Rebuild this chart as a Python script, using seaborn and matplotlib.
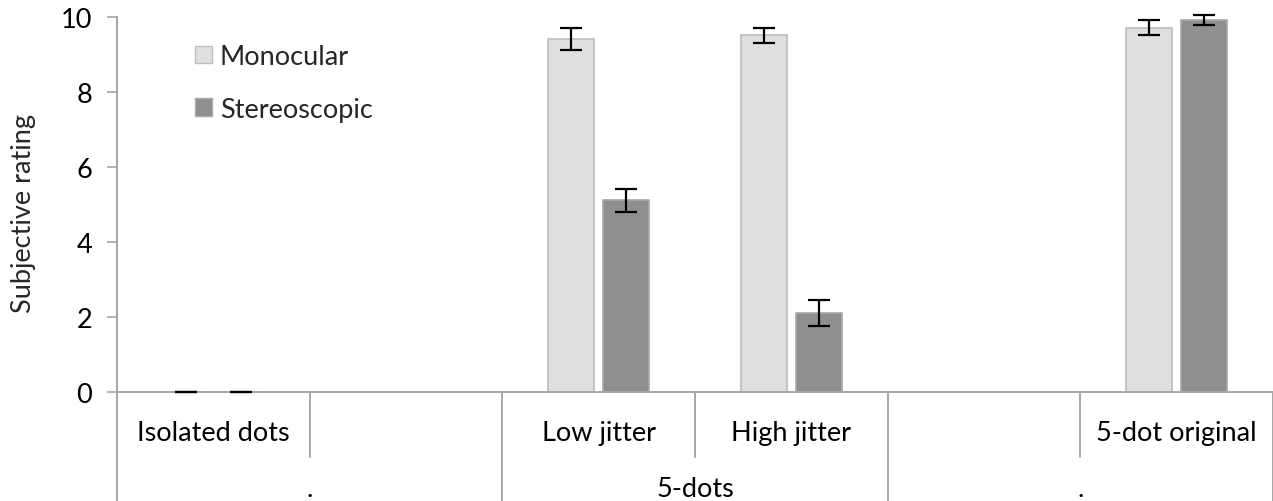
import matplotlib
matplotlib.use("Agg")
import matplotlib.pyplot as plt
import matplotlib.transforms as mtransforms
from matplotlib.patches import Patch
from matplotlib.lines import Line2D
import seaborn as sns
import pandas as pd

# ---- data ----
categories = ["Isolated dots", "blank_a", "Low jitter", "High jitter", "blank_b", "5-dot original"]
category_labels = ["Isolated dots", "", "Low jitter", "High jitter", "", "5-dot original"]
group_labels = [".", "5-dots", "."]
group_spans = [(0, 1), (2, 3), (4, 5)]
series = ["Monocular", "Stereoscopic"]
data_categories = ["Isolated dots", "Low jitter", "High jitter", "5-dot original"]
monocular = [0.0, 9.41, 9.51, 9.71]
stereoscopic = [0.0, 5.11, 2.10, 9.92]
monocular_err = [0.0, 0.30, 0.20, 0.20]
stereoscopic_err = [0.0, 0.30, 0.35, 0.13]

sns.set_theme(style="white")
plt.rcParams["font.family"] = ["Lato", "DejaVu Sans"]
FS = 19.5

rows = []
for c, m, s, me, se in zip(data_categories, monocular, stereoscopic, monocular_err, stereoscopic_err):
    rows.append({"cat": c, "series": "Monocular", "val": m, "err": me})
    rows.append({"cat": c, "series": "Stereoscopic", "val": s, "err": se})
df = pd.DataFrame(rows)

fig = plt.figure(figsize=(12.73, 5.02), dpi=100)
ax = fig.add_axes([117 / 1273, 1 - 393 / 502, 1156 / 1273, 375 / 502])

palette = {"Monocular": "#dfdfdf", "Stereoscopic": "#8f8f8f"}
sns.barplot(data=df, x="cat", y="val", hue="series", order=categories,
            hue_order=series, palette=palette, width=0.568, gap=0.155,
            errorbar=None, legend=False, ax=ax, saturation=1)

edge = {"Monocular": "#bdbdbd", "Stereoscopic": "#a9a9a9"}
lookup = {(r.cat, r.series): r.err for r in df.itertuples()}
for p in ax.patches:
    cx = p.get_x() + p.get_width() / 2
    ci = int(round(cx))
    s = series[0] if cx < ci else series[1]
    p.set_edgecolor(edge[s])
    p.set_linewidth(1.2)
    err = lookup[(categories[ci], s)]
    ax.errorbar(cx, p.get_height(), yerr=err, fmt="none", ecolor="black",
                elinewidth=1.6, capsize=8, capthick=1.6, zorder=5, clip_on=False)

ax.set_xlim(-0.5, 5.5)
ax.set_ylim(0, 10)
ax.set_yticks([0, 2, 4, 6, 8, 10])
ax.tick_params(axis="y", which="both", left=True, length=7, width=1.2,
               color="#a6a6a6", labelsize=FS, pad=11, labelcolor="black")
ax.set_xticks([])
ax.set_xlabel("")
ax.set_ylabel("Subjective rating", fontsize=FS)
ax.yaxis.set_label_coords((36 - 117) / 1156, (393 - 214) / 375)
for side in ["top", "right"]:
    ax.spines[side].set_visible(False)
for side in ["left", "bottom"]:
    ax.spines[side].set_color("#a6a6a6")
    ax.spines[side].set_linewidth(1.4)

# multi-level category axis
trans = mtransforms.blended_transform_factory(ax.transData, ax.transAxes)
row1_y = (393 - 434) / 375
row2_y = (393 - 490) / 375
short_end = (393 - 458) / 375
long_end = (393 - 503) / 375
for i, lab in enumerate(category_labels):
    if lab:
        ax.text(i, row1_y, lab, transform=trans, ha="center", va="center",
                fontsize=FS, color="black")
long_bounds = {-0.5, 1.5, 3.5, 5.5}
for b in [-0.5, 0.5, 1.5, 2.5, 3.5, 4.5, 5.5]:
    yend = long_end if b in long_bounds else short_end
    ax.add_line(Line2D([b, b], [0, yend], transform=trans, color="#a6a6a6",
                       lw=1.4, clip_on=False))
for lab, (a, b) in zip(group_labels, group_spans):
    ax.text((a + b) / 2, row2_y, lab, transform=trans, ha="center", va="center",
            fontsize=FS, color="black")

handles = [Patch(facecolor=palette[s], edgecolor=edge[s], linewidth=1.0) for s in series]
ax.legend(handles, series, loc="upper left",
          bbox_to_anchor=((195 - 117) / 1156, (393 - 45) / 375),
          frameon=False, fontsize=FS, handlelength=0.62, handleheight=0.62,
          handletextpad=0.3, labelspacing=1.02, borderpad=0, borderaxespad=0)

fig.savefig("out.png", dpi=100)
